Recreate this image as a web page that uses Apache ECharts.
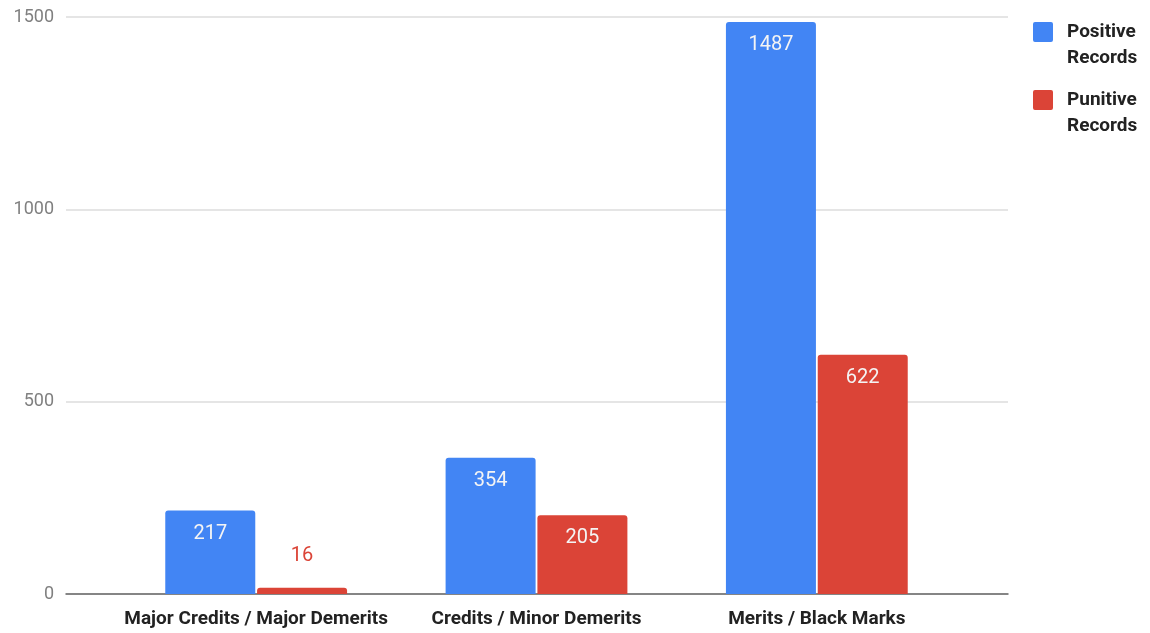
<!DOCTYPE html>
<html>
<head>
    <meta charset="utf-8">
    <title>Records</title>
    <script src="https://cdn.jsdelivr.net/npm/echarts@6.0.0/dist/echarts.min.js"></script>
    <style>
        body { margin: 0; padding: 0; background: #fff; }
        #chart { width: 1150px; height: 633px; }
    </style>
</head>
<body>
    <div id="chart"></div>
    <script>
        const categories = ['Major Credits / Major Demerits', 'Credits / Minor Demerits', 'Merits / Black Marks'];
        const positiveRecords = [217, 354, 1487];
        const punitiveRecords = [16, 205, 622];
        const seriesNames = ['Positive\nRecords', 'Punitive\nRecords'];
        const yTicks = [0, 500, 1000, 1500];

        const blue = '#4285f4';
        const red = '#db4437';
        const font = 'Roboto, "Noto Sans", sans-serif';

        // square sits in the top part of a taller icon box, so it lines up with the first text line
        const legendIcon = 'path://M2,0 L18,0 Q20,0 20,2 L20,18 Q20,20 18,20 L2,20 Q0,20 0,18 L0,2 Q0,0 2,0 Z M0,46 Z';

        // small bars get their label above the bar, in the bar colour
        function toData(values, color) {
            return values.map(v => v < 100
                ? { value: v, label: { position: 'top', distance: 22, color: color } }
                : v);
        }

        const chart = echarts.init(document.getElementById('chart'));
        const barLabel = {
            show: true,
            position: 'insideTop',
            distance: 13,
            color: '#f4f4f4',
            fontSize: 20,
            fontFamily: font
        };

        chart.setOption({
            animation: false,
            textStyle: { fontFamily: font },
            legend: {
                orient: 'vertical',
                left: 1033,
                top: 19,
                padding: 0,
                itemGap: 16,
                itemWidth: 20,
                itemHeight: 46,
                icon: legendIcon,
                data: seriesNames,
                textStyle: {
                    fontSize: 19,
                    fontWeight: 'bold',
                    color: '#222',
                    lineHeight: 26,
                    padding: [0, 0, 0, 9]
                }
            },
            grid: [
                { left: 66, right: 142, top: 17, bottom: 39 },
                { left: 116, right: 193, top: 17, bottom: 39 }
            ],
            xAxis: [
                {
                    gridIndex: 0, type: 'value', min: 0, max: 1,
                    axisLabel: { show: false }, axisTick: { show: false },
                    splitLine: { show: false },
                    axisLine: { show: true, onZero: false, lineStyle: { color: '#666', width: 1.5 } }
                },
                {
                    gridIndex: 1, type: 'category', data: categories,
                    axisLine: { show: false }, axisTick: { show: false },
                    axisLabel: { fontSize: 19, fontWeight: 'bold', color: '#222', margin: 16, interval: 0 }
                }
            ],
            yAxis: [
                {
                    gridIndex: 0, type: 'value', min: yTicks[0], max: yTicks[yTicks.length - 1], interval: 500,
                    axisLine: { show: false }, axisTick: { show: false },
                    axisLabel: { fontSize: 18, color: '#808080', margin: 12, formatter: v => String(v) },
                    splitLine: { lineStyle: { color: '#dcdcdc', width: 1.5 } }
                },
                {
                    gridIndex: 1, type: 'value', min: yTicks[0], max: yTicks[yTicks.length - 1],
                    show: false
                }
            ],
            series: [
                {
                    name: seriesNames[0], type: 'bar', xAxisIndex: 1, yAxisIndex: 1,
                    data: toData(positiveRecords, blue),
                    barWidth: 90, barGap: '2%',
                    itemStyle: { color: blue, borderRadius: [3, 3, 0, 0] },
                    label: barLabel
                },
                {
                    name: seriesNames[1], type: 'bar', xAxisIndex: 1, yAxisIndex: 1,
                    data: toData(punitiveRecords, red),
                    barWidth: 90, barGap: '2%',
                    itemStyle: { color: red, borderRadius: [3, 3, 0, 0] },
                    label: barLabel
                }
            ]
        });
    </script>
</body>
</html>
